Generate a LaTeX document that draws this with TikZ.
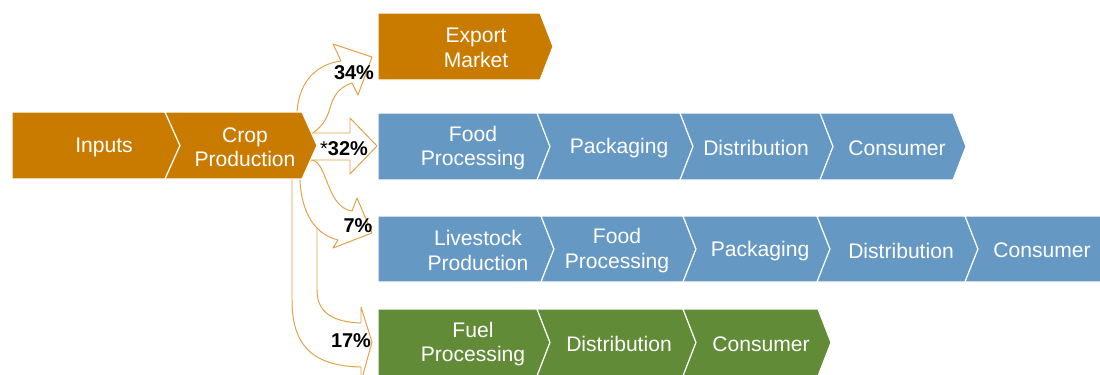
\documentclass[tikz,border=0pt]{standalone}
\usepackage{fontspec}
\setmainfont{Liberation Sans}

\definecolor{cropcol}{RGB}{201,123,0}
\definecolor{foodcol}{RGB}{101,152,195}
\definecolor{fuelcol}{RGB}{97,139,54}
\definecolor{flowcol}{RGB}{228,162,72}

\tikzset{
  stage/.style={fill=#1, draw=white, line width=0.8pt, line join=miter},
  stagetext/.style={text=white, align=center, inner sep=0pt, yshift=-0.04cm,
    font=\fontsize{15}{17.5}\selectfont},
  flow/.style={draw=flowcol, fill=white, line width=0.7pt, line join=round},
  share/.style={inner sep=0pt, font=\bfseries\fontsize{14.2}{16}\selectfont}
}

\def\tipdepth{13}
% first stage of a chain: flat back (x0, x1, top, bottom, colour)
\newcommand{\headbox}[5]{\draw[stage=#5] (#1,#3) -- (#2,#3) -- ({#2+\tipdepth},{(#3+#4)/2}) -- (#2,#4) -- (#1,#4) -- cycle;}
% later stage: notched back
\newcommand{\linkbox}[5]{\draw[stage=#5] (#1,#3) -- (#2,#3) -- ({#2+\tipdepth},{(#3+#4)/2}) -- (#2,#4) -- (#1,#4) -- ({#1+\tipdepth},{(#3+#4)/2}) -- cycle;}

\begin{document}
\begin{tikzpicture}[x=0.025cm,y=-0.025cm]
  \useasboundingbox (0,0) rectangle (1100,375);
  \clip (0,0) rectangle (1100,375);

  % Flow arrows, roots are hidden under the crop stage
  \draw[flow] (292,170) -- (292,300) .. controls (292,345) and (312,366) .. (361,367)
    -- (361,382) -- (372,342) -- (361,307) -- (361,323)
    .. controls (332,322) and (317,312) .. (317,290) -- (317,172) -- cycle; %fuel
  \draw[flow] (306,165) -- (312,160) .. controls (328,163) and (326,207) .. (352,211)
    -- (357,198) -- (372,233) -- (333,248) -- (338,240)
    .. controls (310,233) and (301,205) .. (300,180) -- (300,172) -- cycle; %livestock
  \draw[flow] (300,125) -- (297,112) .. controls (299,80) and (318,64) .. (341,61)
    -- (333,44) -- (372,57) -- (358,95) -- (352,83)
    .. controls (337,88) and (333,98) .. (330,108)
    .. controls (327,120) and (320,129) .. (311,134) -- cycle; %export
  \draw[flow] (305,133) -- (350,133) -- (350,118) -- (377,146) -- (350,174)
    -- (350,160) -- (305,160) -- cycle; %food

  % Farm stages
  \def\tipdepth{15}
  \headbox{12}{165}{112}{179}{cropcol}
  \linkbox{165}{302}{112}{179}{cropcol}
  \node[stagetext] (inputs) at (104,145.5) {Inputs};
  \node[stagetext] (crop) at (245,145.5) {Crop\\Production};

  % Export
  \def\tipdepth{13}
  \headbox{378}{540}{13}{80}{cropcol}
  \node[stagetext] (export) at (476,46.5) {Export\\Market};

  % Food chain
  \headbox{378}{537}{113}{180}{foodcol}
  \linkbox{537}{680}{113}{180}{foodcol}
  \linkbox{680}{820}{113}{180}{foodcol}
  \linkbox{820}{953}{113}{180}{foodcol}
  \node[stagetext] (foodproc) at (473,146.5) {Food\\Processing};
  \node[stagetext] (foodpack) at (619,146.5) {Packaging};
  \node[stagetext] (fooddist) at (756,146.5) {Distribution};
  \node[stagetext] (foodcons) at (897,146.5) {Consumer};

  % Livestock chain
  \headbox{378}{541}{216}{282}{foodcol}
  \linkbox{541}{683}{216}{282}{foodcol}
  \linkbox{683}{817}{216}{282}{foodcol}
  \linkbox{817}{965}{216}{282}{foodcol}
  \linkbox{965}{1105}{216}{282}{foodcol}
  \node[stagetext] (liveprod) at (478,249) {Livestock\\Production};
  \node[stagetext] (liveproc) at (617,249) {Food\\Processing};
  \node[stagetext] (livepack) at (760,249) {Packaging};
  \node[stagetext] (livedist) at (901,249) {Distribution};
  \node[stagetext] (livecons) at (1042,249) {Consumer};

  % Fuel chain
  \headbox{378}{537}{309}{376}{fuelcol}
  \linkbox{537}{683}{309}{376}{fuelcol}
  \linkbox{683}{818}{309}{376}{fuelcol}
  \node[stagetext] (fuelproc) at (473,342.5) {Fuel\\Processing};
  \node[stagetext] (fueldist) at (619,342.5) {Distribution};
  \node[stagetext] (fuelcons) at (761,342.5) {Consumer};

  % Shares of the crop
  \node[share] (pexport) at (354,73) {34\%};
  \node[share] (pfood) at (344,149) {\textmd{*}32\%};
  \node[share] (plive) at (358,226) {7\%};
  \node[share] (pfuel) at (351,341) {17\%};
\end{tikzpicture}
\end{document}
